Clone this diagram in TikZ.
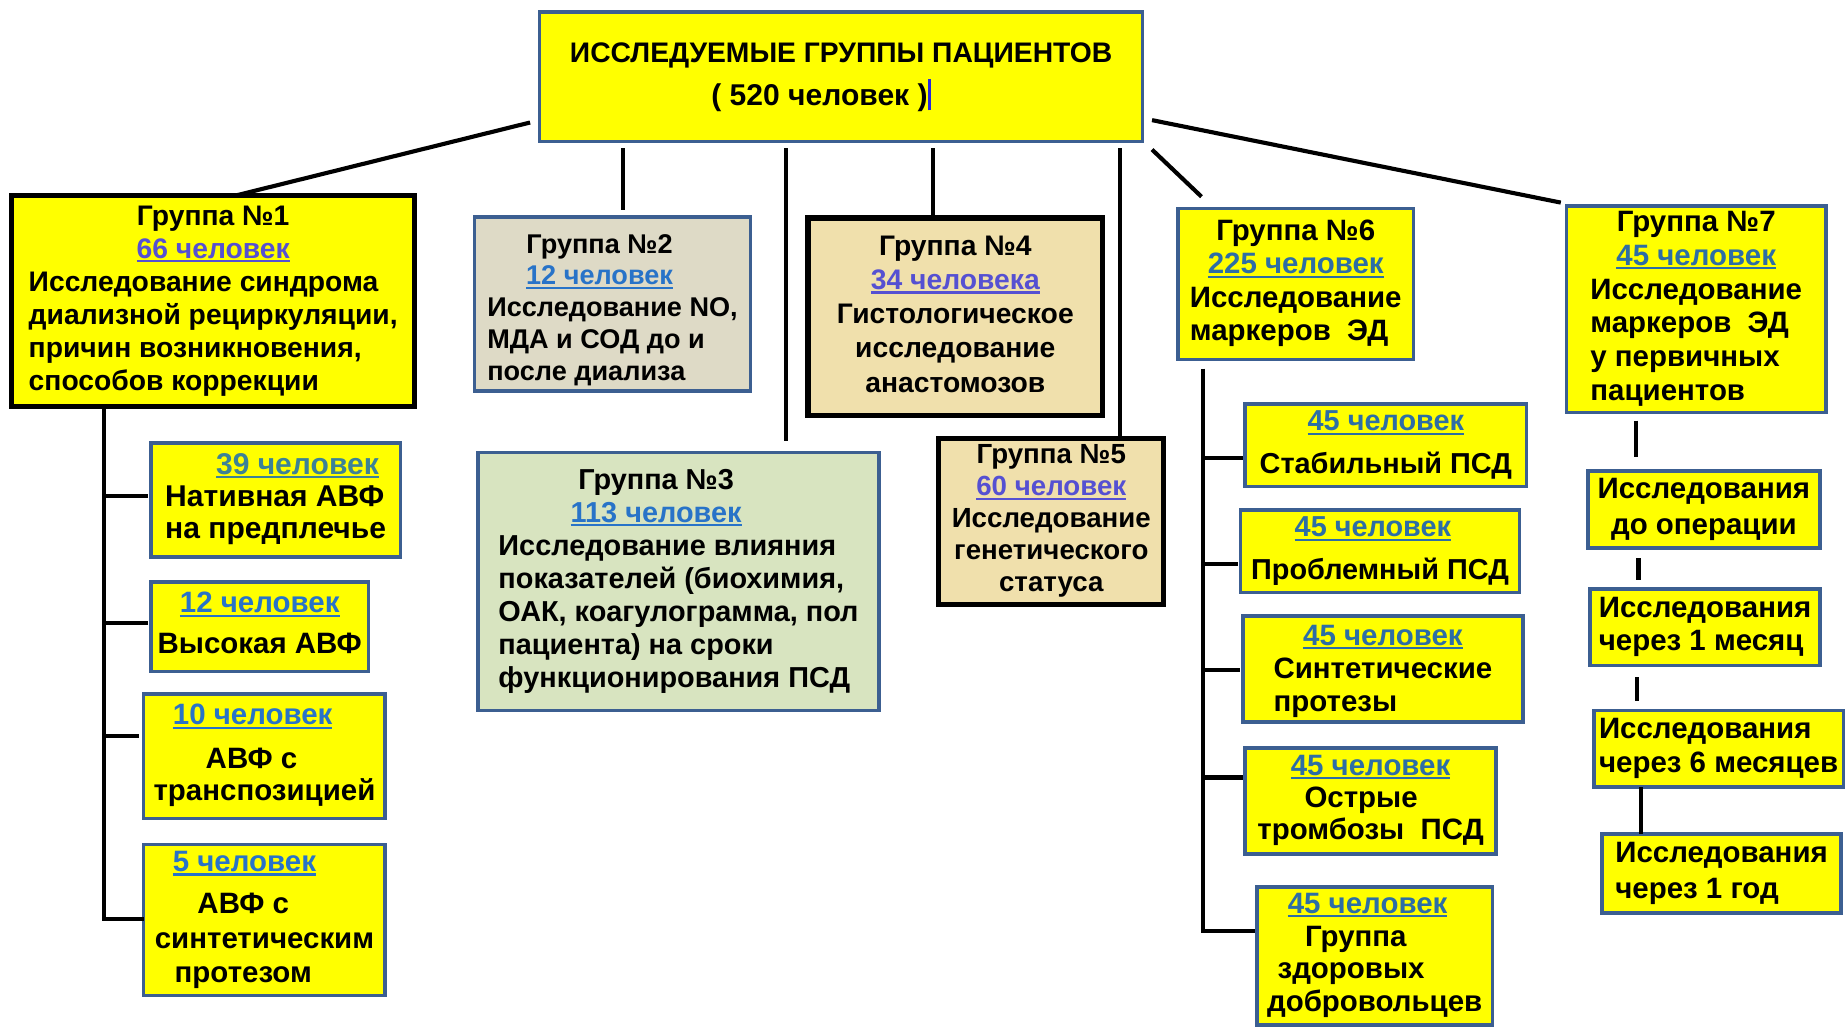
\documentclass[tikz,border=0pt]{standalone}
\usepackage{fontspec}
\setmainfont{Liberation Sans}
\usetikzlibrary{calc}
\definecolor{yel}{RGB}{255,255,0}
\definecolor{bord}{RGB}{60,95,145}
\definecolor{grayf}{RGB}{222,218,198}
\definecolor{greenf}{RGB}{216,228,192}
\definecolor{tanf}{RGB}{240,224,172}
\definecolor{lkA}{RGB}{85,80,210}
\definecolor{lkB}{RGB}{40,115,200}
\definecolor{lkC}{RGB}{45,110,165}
\definecolor{lkD}{RGB}{60,130,150}
\definecolor{cursorc}{RGB}{40,40,220}
\newcommand\fz[2]{\fontsize{#1}{#2}\selectfont\bfseries}
\newcommand\lnk[2]{\textcolor{#1}{\setbox0\hbox{#2}\rlap{\rule[-3.5pt]{\wd0}{2pt}}\box0}}
\newcommand\mc[1]{\multicolumn{1}{@{}c@{}}{#1}}
\newcommand\sd[1]{\rule{0pt}{\dimexpr0.7\baselineskip+#1*2\relax}}
\newcommand\su[1]{\rule[\dimexpr-0.3\baselineskip-#1*2\relax]{0pt}{\dimexpr0.3\baselineskip+#1*2\relax}}
\begin{document}
\begin{tikzpicture}[x=1pt,y=-1pt,
  box/.style={rectangle, inner sep=0pt, outer sep=0pt, text=black},
  ybox/.style={box, fill=yel, draw=bord, line width=3pt},
  kbox/.style={box, draw=black, line width=4.5pt},
  conn/.style={draw=black, line width=3.5pt}]
\useasboundingbox (0,0) rectangle (1568,874);
\fill[white] (0,0) rectangle (1568,874);

% top
\node[ybox, minimum width=512pt, minimum height=110pt, font=\fz{24}{32}] (top) at (714,65)
 {\begin{tabular}{@{}c@{}}ИССЛЕДУЕМЫЕ ГРУППЫ ПАЦИЕНТОВ\\[4pt]
  {\fontsize{25.5}{32}\selectfont ( 520 человек )\textcolor{cursorc}{\rule[-4pt]{2.6pt}{27pt}}\hspace*{34pt}}\end{tabular}};

% groups
\node[kbox, fill=yel, minimum width=342pt, minimum height=179pt, font=\fz{24}{28}] (g1) at (181,255.5)
 {\begin{tabular}{@{}l@{}}\mc{\sd{8pt}Группа №1}\\ \mc{\lnk{lkA}{66 человек}}\\ Исследование синдрома\\ диализной рециркуляции,\\ причин возникновения,\\ способов коррекции\end{tabular}};

\node[box, fill=grayf, draw=bord, line width=3pt, minimum width=234pt, minimum height=148pt, font=\fz{23}{27}] (g2) at (520,258)
 {\begin{tabular}{@{}l@{}}\mc{\sd{15pt}Группа №2\hspace*{22pt}}\\ \mc{\lnk{lkB}{12 человек}\hspace*{22pt}}\\ Исследование NO,\\ МДА и СОД до и\\ после диализа\end{tabular}};

\node[box, fill=greenf, draw=bord, line width=3pt, minimum width=340pt, minimum height=219pt, font=\fz{24.5}{28}] (g3) at (576,493.5)
 {\begin{tabular}{@{}l@{}}\mc{\sd{10pt}Группа №3\hspace*{38pt}}\\ \mc{\lnk{lkB}{113 человек}\hspace*{38pt}}\\ Исследование влияния\\ показателей (биохимия,\\ ОАК, коагулограмма, пол\\ пациента) на сроки\\ функционирования ПСД\end{tabular}};

\node[kbox, fill=tanf, minimum width=250pt, minimum height=168pt, font=\fz{24}{29}] (g4) at (811,269)
 {\begin{tabular}{@{}c@{}}\sd{4pt}Группа №4\\ \lnk{lkA}{34 человека}\\ Гистологическое\\ исследование\\ анастомозов\end{tabular}};

\node[kbox, fill=tanf, minimum width=191pt, minimum height=141pt, font=\fz{23.5}{27}] (g5) at (892.5,442.5)
 {\begin{tabular}{@{}c@{}}\sd{2pt}Группа №5\\ \lnk{lkA}{60 человек}\\ Исследование\\ генетического\\ статуса\end{tabular}};

\node[ybox, minimum width=200pt, minimum height=128pt, font=\fz{25}{28.5}] (g6) at (1100,241)
 {\begin{tabular}{@{}l@{}}\mc{\sd{8pt}Группа №6}\\ \mc{\lnk{lkC}{225 человек}}\\ Исследование\\ маркеров\ \ ЭД\end{tabular}};

\node[ybox, minimum width=220pt, minimum height=175pt, font=\fz{25}{28.8}] (g7) at (1440,262.5)
 {\begin{tabular}{@{}l@{}}\mc{\sd{5pt}Группа №7}\\ \mc{\lnk{lkC}{45 человек}}\\ Исследование\\ маркеров\ \ ЭД\\ у первичных\\ пациентов\end{tabular}};

% group 1 subs
\node[ybox, minimum width=212pt, minimum height=97pt, font=\fz{25.5}{27.5}] (s1a) at (234,424.5)
 {\begin{tabular}{@{}l@{}}\mc{\sd{1pt}\hspace*{37pt}\lnk{lkD}{39 человек}}\\ Нативная АВФ\\ на предплечье\end{tabular}};
\node[ybox, minimum width=185pt, minimum height=76pt, font=\fz{25}{27}] (s1b) at (220.5,532)
 {\begin{tabular}{@{}c@{}}\sd{7pt}\lnk{lkB}{12 человек}\\[7pt] Высокая АВФ\end{tabular}};
\node[ybox, minimum width=205pt, minimum height=106pt, font=\fz{25}{27}] (s1c) at (224.5,642)
 {\begin{tabular}{@{}c@{}}\lnk{lkB}{10 человек}\hspace*{20pt}\\[10pt] АВФ с\hspace*{22pt}\\ транспозицией\su{1pt}\end{tabular}};
\node[ybox, minimum width=205pt, minimum height=128pt, font=\fz{25}{29}] (s1d) at (224.5,781)
 {\begin{tabular}{@{}c@{}}\sd{6pt}\lnk{lkB}{5 человек}\hspace*{34pt}\\[7pt] АВФ с\hspace*{36pt}\\ синтетическим\\ протезом\hspace*{36pt}\end{tabular}};

% group 6 subs
\node[ybox, minimum width=239pt, minimum height=70pt, font=\fz{24.5}{28}] (s6a) at (1176.5,378)
 {\begin{tabular}{@{}c@{}}\sd{10pt}\lnk{lkC}{45 человек}\\[8pt] Стабильный ПСД\end{tabular}};
\node[ybox, minimum width=237pt, minimum height=70pt, font=\fz{24.5}{28}] (s6b) at (1171.5,468)
 {\begin{tabular}{@{}c@{}}\sd{10pt}\lnk{lkC}{45 человек}\hspace*{12pt}\\[8pt] Проблемный ПСД\end{tabular}};
\node[ybox, minimum width=238pt, minimum height=90pt, font=\fz{25}{28}] (s6c) at (1174,568)
 {\begin{tabular}{@{}l@{}}\mc{\sd{12pt}\lnk{lkC}{45 человек}}\\ Синтетические\\ протезы\end{tabular}};
\node[ybox, minimum width=213pt, minimum height=90pt, font=\fz{25}{27.5}] (s6d) at (1163.5,680)
 {\begin{tabular}{@{}c@{}}\sd{9.5pt}\lnk{lkC}{45 человек}\\ Острые\hspace*{16pt}\\ тромбозы\ \ ПСД\end{tabular}};
\node[ybox, minimum width=200pt, minimum height=117pt, font=\fz{25}{28}] (s6e) at (1167,811.5)
 {\begin{tabular}{@{}c@{}}\sd{8.5pt}\lnk{lkC}{45 человек}\hspace*{12pt}\\ Группа\hspace*{32pt}\\ здоровых\hspace*{40pt}\\ добровольцев\end{tabular}};

% group 7 subs
\node[ybox, minimum width=197pt, minimum height=65pt, font=\fz{25}{30}] (s7a) at (1446.5,432.5)
 {\begin{tabular}{@{}c@{}}\sd{5.5pt}Исследования\\ до операции\end{tabular}};
\node[ybox, minimum width=195pt, minimum height=65pt, font=\fz{25}{28}] (s7b) at (1447.5,532.5)
 {\begin{tabular}{@{}l@{}}\sd{5.5pt}Исследования\\ через 1 месяц\end{tabular}};
\node[ybox, minimum width=212pt, minimum height=65pt, font=\fz{25}{29}] (s7c) at (1459,635.5)
 {\begin{tabular}{@{}l@{}}\sd{6pt}Исследования\\ через 6 месяцев\end{tabular}};
\node[ybox, minimum width=203pt, minimum height=67pt, font=\fz{25}{30}] (s7d) at (1461.5,741.5)
 {\begin{tabular}{@{}l@{}}\sd{2pt}Исследования\\ через 1 год\end{tabular}};

% connectors from top
\draw[conn] ([shift={(-8,-16)}]top.south west) -- ([xshift=190pt]g1.north west);
\coordinate (c2) at ([xshift=9pt]g2.north);
\draw[conn, shorten <=6pt, shorten >=6pt] (c2 |- top.south) -- (c2);
\coordinate (c3) at ([xshift=91pt]g3.north);
\draw[conn, shorten <=6pt, shorten >=10pt] (c3 |- top.south) -- (c3);
\coordinate (c4) at ([xshift=-19pt]g4.north);
\draw[conn, shorten <=6pt, shorten >=2pt] (c4 |- top.south) -- (c4);
\coordinate (c5) at ([xshift=58.5pt]g5.north);
\draw[conn, shorten <=6pt] (c5 |- top.south) -- (c5);
\draw[conn] ([shift={(8,7)}]top.south east) -- ([shift={(20,-10)}]g6.north west);
\draw[conn] ([shift={(8,-18)}]top.south east) -- ([shift={(-5,-3)}]g7.north west);

% group 1 trunk
\coordinate (t1) at ([xshift=-93pt]g1.south);
\coordinate (k1a) at ([yshift=3.5pt]s1a.west);
\coordinate (k1b) at ([yshift=3pt]s1b.west);
\coordinate (k1c) at ([yshift=17pt]s1c.west);
\coordinate (k1d) at ([yshift=1pt]s1d.west);
\draw[conn] (t1) |- (k1d);
\draw[conn, shorten >=2pt] (t1 |- k1a) -- (k1a);
\draw[conn, shorten >=2pt] (t1 |- k1b) -- (k1b);
\draw[conn, shorten >=4pt] (t1 |- k1c) -- (k1c);

% group 6 trunk
\coordinate (t6) at ([xshift=-79pt]g6.south);
\coordinate (k6a) at ([yshift=-11pt]s6a.west);
\coordinate (k6b) at ([yshift=-11pt]s6b.west);
\coordinate (k6c) at ([yshift=-1pt]s6c.west);
\coordinate (k6d) at ([yshift=20pt]s6d.west);
\coordinate (k6e) at ([yshift=21.5pt]s6e.west);
\draw[conn, shorten <=8pt, shorten >=2pt] (t6) |- (k6e);
\draw[conn, shorten >=2pt] (t6 |- k6a) -- (k6a);
\draw[conn, shorten >=2pt] (t6 |- k6b) -- (k6b);
\draw[conn, shorten >=2pt] (t6 |- k6c) -- (k6c);
\draw[conn, shorten >=2pt] (t6 |- k6d) -- (k6d);

% group 7 chain
\coordinate (c7a) at ([xshift=-51pt]g7.south);
\draw[conn, shorten <=7pt, shorten >=12pt] (c7a) -- (c7a |- s7a.north);
\coordinate (c7b) at ([xshift=-55.5pt]s7a.south);
\draw[conn, shorten <=9pt, shorten >=8pt] (c7b) -- (c7b |- s7b.north);
\coordinate (c7c) at ([xshift=-57.5pt]s7b.south);
\draw[conn, shorten <=10pt, shorten >=8pt] (c7c) -- (c7c |- s7c.north);
\coordinate (c7d) at ([xshift=-66pt]s7c.south);
\draw[conn] (c7d) -- (c7d |- s7d.north);
\end{tikzpicture}
\end{document}
